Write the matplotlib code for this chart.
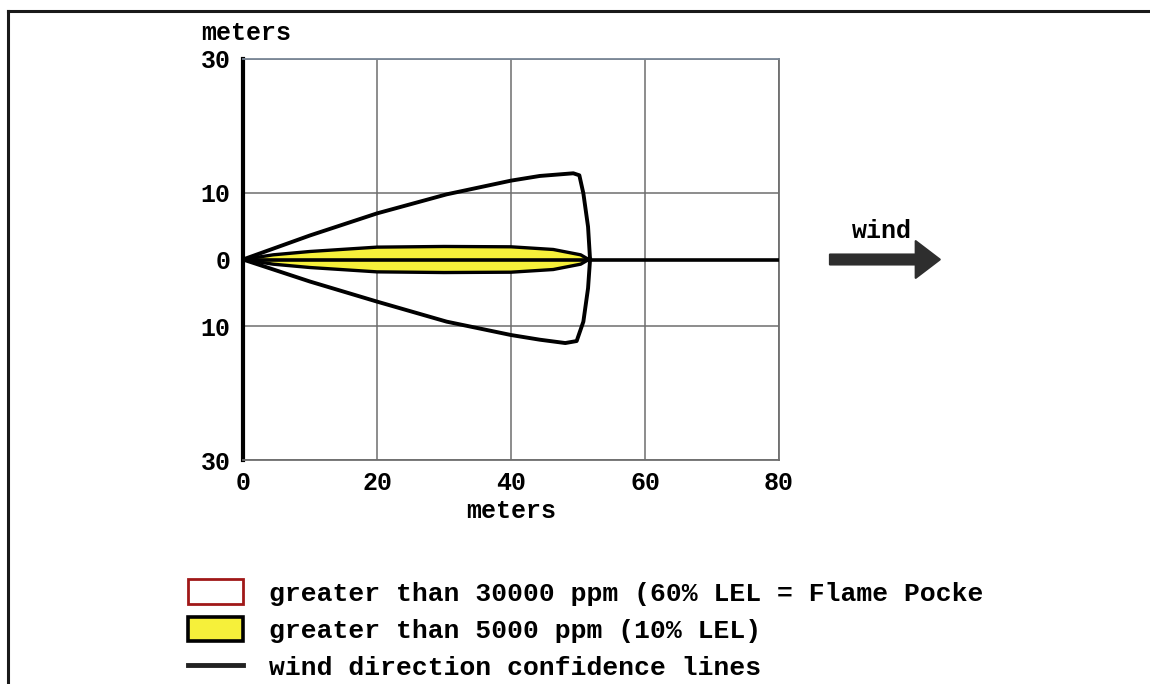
import numpy as np
import matplotlib.pyplot as plt
from matplotlib.patches import Patch, FancyArrow
from matplotlib.lines import Line2D

plt.rcParams['font.family'] = ['Liberation Mono', 'DejaVu Sans Mono']
plt.rcParams['font.weight'] = 'bold'
FS = 18

# upper / lower wind direction confidence lines (downwind m, crosswind m)
conf_up_x = [0, 10, 20, 30.4, 40, 44.3, 49.3, 50.2, 50.8, 51.5, 51.8]
conf_up_y = [0, 3.6, 6.9, 9.75, 11.8, 12.5, 12.9, 12.6, 9.9, 4.9, 0]
conf_lo_x = [0, 10, 20, 30.4, 40, 44.3, 48.1, 49.8, 50.8, 51.5, 51.8]
conf_lo_y = [0, -3.3, -6.3, -9.3, -11.3, -12.0, -12.5, -12.2, -9.3, -4.3, 0]

# 5000 ppm plume (half width)
plume_x = [0, 4.5, 10, 20, 30, 40, 46.3, 50.4, 51.6]
plume_hw = [0, 0.7, 1.2, 1.85, 1.95, 1.9, 1.5, 0.7, 0]

x_ticks = [0, 20, 40, 60, 80]
y_ticks = [30, 10, 0, -10, -30]
y_labels = ['30', '10', '0', '10', '30']

legend_labels = ['greater than 30000 ppm (60% LEL = Flame Pocke',
                 'greater than 5000 ppm (10% LEL)',
                 'wind direction confidence lines']

W, H = 1150, 684
fig = plt.figure(figsize=(W / 100, H / 100), dpi=100)
ax = fig.add_axes([243 / W, 1 - 460 / H, 536 / W, 401 / H])
ax.set_xlim(0, 80)
ax.set_ylim(-30, 30)

grid_c = '#6e6e6e'
for s in ['top', 'right', 'bottom']:
    ax.spines[s].set_color(grid_c)
    ax.spines[s].set_linewidth(1.3)
ax.spines['top'].set_color('#7a8796')
ax.spines['left'].set_color('black')
ax.spines['left'].set_linewidth(3)

ax.set_xticks(x_ticks)
ax.set_yticks(y_ticks)
ax.set_yticklabels(y_labels)
ax.tick_params(length=0, labelsize=FS)
ax.tick_params(axis='y', pad=9)
ax.tick_params(axis='x', pad=8)
ax.grid(True, color=grid_c, linewidth=1.1)
ax.set_axisbelow(True)

# plume
px = np.array(plume_x)
hw = np.array(plume_hw)
ax.fill_between(px, -hw, hw, facecolor='#f6f03a', edgecolor='none', zorder=2)
ax.plot(px, hw, color='black', lw=2.4, zorder=3)
ax.plot(px, -hw, color='black', lw=2.4, zorder=3)

# centerline
ax.plot([0, 80], [0, 0], color='black', lw=2.6, zorder=4)

# confidence lines
ax.plot(conf_up_x, conf_up_y, color='black', lw=2.8, zorder=4, solid_joinstyle='round')
ax.plot(conf_lo_x, conf_lo_y, color='black', lw=2.8, zorder=4, solid_joinstyle='round')

ax.set_xlabel('meters', fontsize=FS, fontweight='bold', labelpad=3)
fig.text(201 / W, 1 - 33 / H, 'meters', fontsize=FS, ha='left', va='center')

# wind arrow
arr = FancyArrow(87.6, 0, 16.4, 0, width=1.5, head_width=5.5, head_length=3.6,
                 length_includes_head=True, color='#2e2e2e', lw=1.5,
                 joinstyle='round', clip_on=False, zorder=5)
ax.add_patch(arr)
ax.text(95.4, 4.3, 'wind', fontsize=FS, ha='center', va='center', clip_on=False)

# legend
handles = [Patch(facecolor='white', edgecolor='#a01818', linewidth=2),
           Patch(facecolor='#f6f03a', edgecolor='black', linewidth=2.6),
           Line2D([], [], color='#222222', lw=3.5)]
fig.legend(handles, legend_labels, loc='upper left',
           bbox_to_anchor=(170 / W, 1 - 561 / H), frameon=False,
           prop={'family': 'Liberation Mono', 'weight': 'bold', 'size': 19},
           handlelength=2.05, handleheight=1.05, handletextpad=1.0,
           labelspacing=0.42, borderpad=0.2)

# outer border
fig.add_artist(Line2D([8 / W, 8 / W], [0, 1 - 11 / H], color='#1a1a1a', lw=2.2))
fig.add_artist(Line2D([8 / W, 1], [1 - 11 / H, 1 - 11 / H], color='#1a1a1a', lw=2.2))

fig.savefig('out.png', dpi=100)
